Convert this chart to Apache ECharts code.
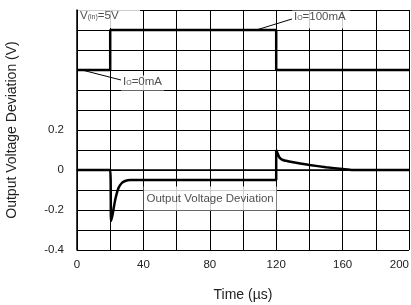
<!DOCTYPE html>
<html>
<head>
<meta charset="utf-8">
<script src="https://cdn.jsdelivr.net/npm/echarts@6/dist/echarts.min.js"></script>
<style>
  html, body { margin: 0; padding: 0; background: #fff; }
  #chart { width: 411px; height: 305px; }
</style>
</head>
<body>
<div id="chart"></div>
<script>
  // load current step (drawn in the upper part of the same frame)
  const loadTime = [0, 20, 20, 120, 120, 200]
  const loadLevel = [0.5, 0.5, 0.7, 0.7, 0.5, 0.5]
  // output voltage deviation (V)
  const voutTime = [0, 20, 20.5, 21.5, 23, 25, 27, 29, 32, 120, 120, 121, 122, 124, 127, 132, 140, 150, 160, 166, 200]
  const voutValue = [0, 0, -0.255, -0.22, -0.15, -0.09, -0.065, -0.055, -0.05, -0.05, 0.1, 0.08, 0.062, 0.05, 0.044, 0.036, 0.025, 0.014, 0.005, 0, 0]
  const xTickLabels = ['0', '40', '80', '120', '160', '200']
  const yTickLabels = ['-0.4', '-0.2', '0', '0.2']

  const font = 'Liberation Sans, Arial, sans-serif'
  const pair = (xs, ys) => xs.map((x, i) => [x, ys[i]])

  let chart = echarts.init(document.getElementById('chart'))
  chart.setOption({
    animation: false,
    textStyle: { fontFamily: font },
    grid: { left: 77, right: 2, top: 10, bottom: 55, outerBoundsMode: 'none', containLabel: false },
    xAxis: {
      type: 'value',
      min: 0,
      max: 200,
      interval: 20,
      name: 'Time (\u00b5s)',
      nameLocation: 'middle',
      nameGap: 38,
      nameTextStyle: { fontSize: 14, color: '#222' },
      axisLine: { lineStyle: { color: '#000', width: 1.5 } },
      axisTick: { show: false },
      axisLabel: {
        color: '#222',
        fontSize: 11.5,
        margin: 9,
        alignMaxLabel: 'right',
        formatter: v => xTickLabels.indexOf(String(Math.round(v))) >= 0 ? String(Math.round(v)) : ''
      },
      splitLine: { show: true, lineStyle: { color: '#000', width: 1 } }
    },
    yAxis: {
      type: 'value',
      min: -0.4,
      max: 0.8,
      interval: 0.1,
      name: 'Output Voltage Deviation (V)',
      nameLocation: 'middle',
      nameGap: 58,
      nameTextStyle: { fontSize: 14, color: '#222' },
      axisLine: { show: true, lineStyle: { color: '#000', width: 1.5 } },
      axisTick: { show: false },
      axisLabel: {
        color: '#222',
        fontSize: 11.5,
        margin: 13,
        formatter: v => {
          let s = String(Math.round(v * 10) / 10)
          return yTickLabels.indexOf(s) >= 0 ? s : ''
        }
      },
      splitLine: { show: true, lineStyle: { color: '#000', width: 1 } }
    },
    series: [
      {
        name: 'annotations',
        type: 'scatter',
        symbolSize: 0,
        z: 3,
        silent: true,
        label: {
          show: true,
          color: '#222',
          fontSize: 11.5,
          backgroundColor: '#fff'
        },
        data: [
          {
            value: [0.6, 0.755],
            label: {
              position: 'right', distance: 0, width: 58, height: 18, padding: [0, 2],
              formatter: 'V{s|(in)}=5V',
              rich: { s: { fontSize: 7, color: '#222', padding: [3, 0, 0, 0] } }
            }
          },
          {
            value: [129.5, 0.752],
            label: {
              position: 'right', distance: 0, width: 54, height: 18, padding: [0, 2],
              formatter: 'I{s|O}=100mA',
              rich: { s: { fontSize: 7, color: '#222', padding: [3, 0, 0, 0] } }
            }
          },
          {
            value: [26.5, 0.435],
            label: {
              position: 'right', distance: 0, height: 15, padding: [0, 2],
              formatter: 'I{s|O}=0mA',
              rich: { s: { fontSize: 7, color: '#222', padding: [3, 0, 0, 0] } }
            }
          },
          {
            value: [80.2, -0.142],
            label: {
              position: 'inside', width: 133, height: 24, align: 'center',
              formatter: 'Output Voltage Deviation'
            }
          }
        ]
      },
      {
        name: 'leaders',
        type: 'line',
        z: 2,
        symbol: 'none',
        silent: true,
        lineStyle: { color: '#000', width: 1 },
        data: [],
        markLine: {
          symbol: 'none',
          silent: true,
          label: { show: false },
          lineStyle: { color: '#000', width: 1, type: 'solid' },
          data: [
            [{ coord: [3, 0.5] }, { coord: [26.5, 0.45] }],
            [{ coord: [108, 0.7] }, { coord: [129.5, 0.755] }]
          ]
        }
      },
      {
        name: 'load',
        type: 'line',
        z: 4,
        symbol: 'none',
        lineStyle: { color: '#000', width: 2.5 },
        data: pair(loadTime, loadLevel)
      },
      {
        name: 'vout',
        type: 'line',
        z: 4,
        symbol: 'none',
        smooth: 0.2,
        lineStyle: { color: '#000', width: 2.5 },
        data: pair(voutTime, voutValue)
      }
    ]
  })
</script>
</body>
</html>
